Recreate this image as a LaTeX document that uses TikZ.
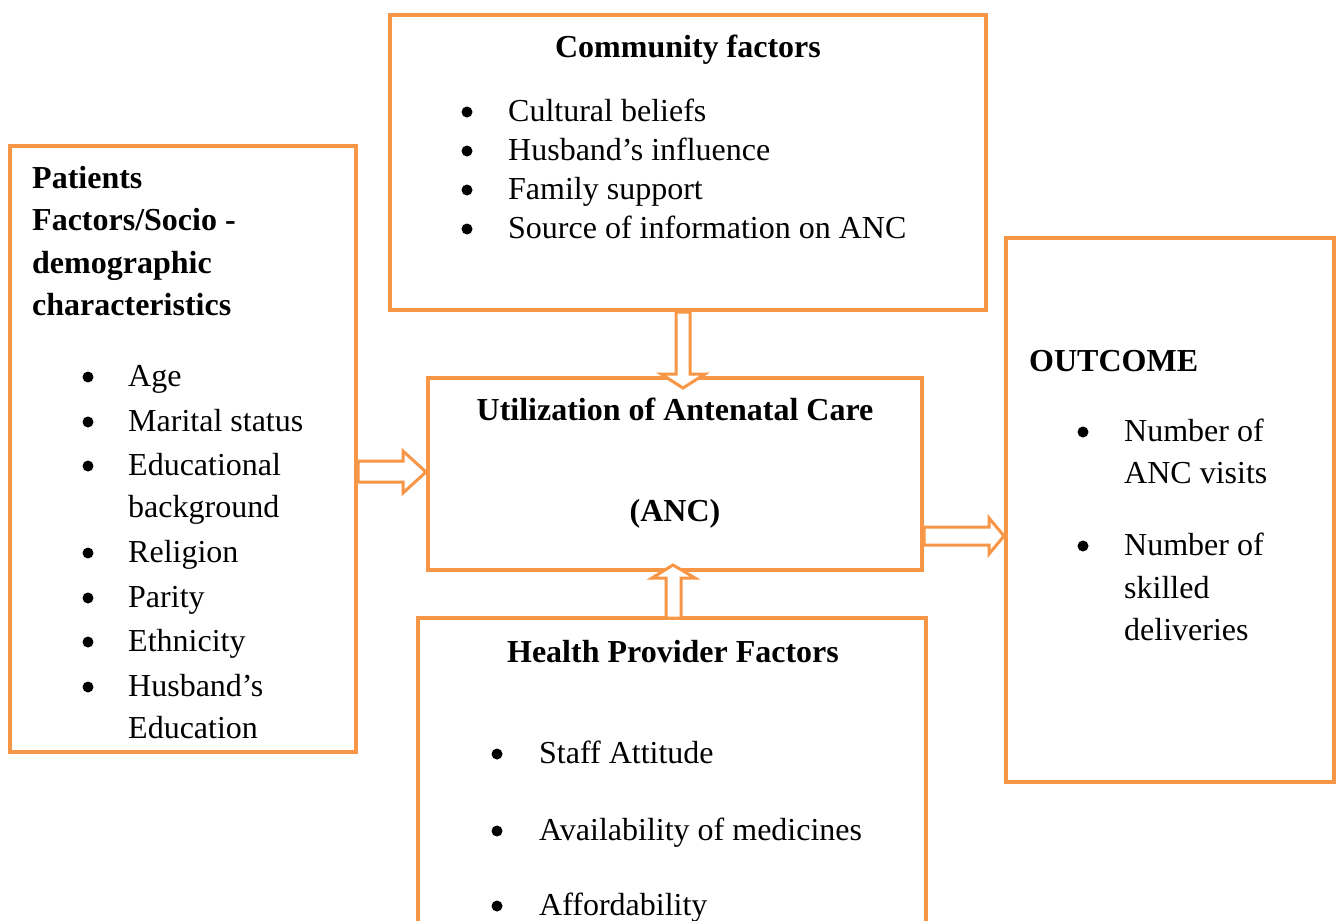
\documentclass[tikz,border=0pt]{standalone}
\usepackage{fontspec}
\setmainfont{Liberation Serif}
\definecolor{boxor}{HTML}{F79646}
\begin{document}
\begin{tikzpicture}[x=1pt,y=-1pt,
  boxline/.style={draw=boxor,line width=4pt},
  arr/.style={draw=boxor,fill=white,line width=3pt,line join=miter},
  txt/.style={anchor=base west,inner sep=0pt,font=\fontsize{32}{38}\selectfont},
  hd/.style={anchor=base,inner sep=0pt,font=\fontsize{32}{38}\selectfont\bfseries},
  hdl/.style={anchor=base west,inner sep=0pt,font=\fontsize{32}{38}\selectfont\bfseries},
  bul/.style={circle,fill=black,inner sep=0pt,minimum size=11pt}]
\useasboundingbox (0,0) rectangle (1336,921);
\fill[white] (0,0) rectangle (1336,921);
% boxes
\node[boxline,minimum width=596pt,minimum height=295pt,inner sep=0pt,anchor=north west] (comm) at (388,13) {};
\node[boxline,minimum width=346pt,minimum height=606pt,inner sep=0pt,anchor=north west] (pat) at (8,144) {};
\node[boxline,minimum width=494pt,minimum height=192pt,inner sep=0pt,anchor=north west] (util) at (426,376) {};
\node[boxline,minimum width=328pt,minimum height=544pt,inner sep=0pt,anchor=north west] (out) at (1004,236) {};
\coordinate (hbl) at (418,930);
\coordinate (htl) at (418,618);
\coordinate (htr) at (926,618);
\coordinate (hbr) at (926,930);
\draw[boxor,line width=4pt,line join=miter] (hbl) -- (htl) -- (htr) -- (hbr);
% helper coordinates for arrows
\coordinate (la1) at (0,461); \coordinate (la2) at (0,472); \coordinate (la3) at (0,482);
\coordinate (ra1) at (0,527); \coordinate (ra2) at (0,536); \coordinate (ra3) at (0,545);
\coordinate (ta1) at (676,0); \coordinate (ta2) at (683,0); \coordinate (ta3) at (690,0);
\coordinate (ba1) at (666,0); \coordinate (ba2) at (673,0); \coordinate (ba3) at (681,0);
\coordinate (ttip) at (683,388);
\coordinate (btip) at (673,565);
% arrows (hollow block arrows)
\draw[arr] (pat.east |- la1) -- (403,461) -- (403,451) -- (util.west |- la2) -- (403,493) -- (403,482) -- (pat.east |- la3) -- cycle;
\draw[arr] (ta1 |- comm.south) -- (676,374) -- (661,374) -- (ttip) -- (705,374) -- (690,374) -- (ta3 |- comm.south) -- cycle;
\draw[arr] (ba1 |- htl) -- (666,578) -- (652,578) -- (btip) -- (695,578) -- (681,578) -- (ba3 |- htl) -- cycle;
\draw[arr] (util.east |- ra1) -- (989,527) -- (989,518) -- (out.west |- ra2) -- (989,554) -- (989,545) -- (util.east |- ra3) -- cycle;
% community text
\node[hd] (ct) at (688,57) {Community factors};
\foreach \y/\t [count=\i] in {121/Cultural beliefs,160/Husband’s influence,199/Family support,238/Source of information on ANC}{
  \node[bul] (cb\i) at (467,\y-9) {};
  \node[txt] (ci\i) at (508,\y) {\t};
}
% patients text
\node[hdl] (p1) at (32,188) {Patients};
\node[hdl] (p2) at (32,230) {Factors/Socio -};
\node[hdl] (p3) at (32,273) {demographic};
\node[hdl] (p4) at (32,315) {characteristics};
\foreach \y/\t [count=\i] in {386/Age,431/Marital status,475/Educational,562/Religion,607/Parity,651/Ethnicity,696/Husband’s}{
  \node[bul] (pb\i) at (88,\y-9) {};
  \node[txt] (pi\i) at (128,\y) {\t};
}
\node[txt] (pe1) at (128,517) {background};
\node[txt] (pe2) at (128,738) {Education};
% utilization
\node[hd] (u1) at (675,420) {Utilization of Antenatal Care};
\node[hd] (u2) at (675,521) {(ANC)};
% health
\node[hd] (ht) at (673,662) {Health Provider Factors};
\foreach \y/\t [count=\i] in {763/Staff Attitude,840/Availability of medicines,915/Affordability}{
  \node[bul] (hb\i) at (497,\y-9) {};
  \node[txt] (hi\i) at (539,\y) {\t};
}
% outcome
\node[hdl] (ot) at (1029,371) {OUTCOME};
\node[bul] (ob1) at (1083,432) {};
\node[txt] (oi1) at (1124,441) {Number of};
\node[txt] (oi2) at (1124,483) {ANC visits};
\node[bul] (ob2) at (1083,546) {};
\node[txt] (oi3) at (1124,555) {Number of};
\node[txt] (oi4) at (1124,598) {skilled};
\node[txt] (oi5) at (1124,640) {deliveries};
\end{tikzpicture}
\end{document}
